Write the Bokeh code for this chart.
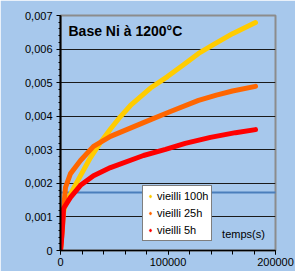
from bokeh.plotting import figure
from bokeh.models import (Range1d, FixedTicker, Label, Legend, LegendItem, PolyAnnotation)
from bokeh.embed import file_html
from bokeh.resources import INLINE
import numpy as np

# ---- data ----
t_100h = [0, 930, 1860, 3700, 7400, 12100, 18600, 27900, 37200, 46500, 55800, 65100,
          83700, 99500, 113500, 128400, 144200, 160000, 181400]
m_100h = [0, 0.00045, 0.00095, 0.00128, 0.00155, 0.00185, 0.00223, 0.00277, 0.00322,
          0.00362, 0.00399, 0.00432, 0.00484, 0.00518, 0.00551, 0.00587, 0.00617,
          0.00646, 0.00679]

t_25h = [0, 1860, 2800, 4650, 9300, 18600, 30700, 46500, 77200, 102300, 128400, 145000,
         160000, 181400]
m_25h = [0, 0.00069, 0.00119, 0.00188, 0.00229, 0.00268, 0.0031, 0.0034, 0.00381,
         0.00414, 0.00447, 0.00463, 0.00475, 0.00489]

t_5h = [0, 930, 1860, 2800, 9300, 18600, 30700, 46500, 77200, 97700, 116000, 139500,
        162800, 181400]
m_5h = [0, 0.0003, 0.00074, 0.00125, 0.00158, 0.00194, 0.00223, 0.00247, 0.00283,
        0.00301, 0.00319, 0.00337, 0.00351, 0.0036]

series_names = ["vieilli 100h", "vieilli 25h", "vieilli 5h"]
series_colors = ["#FFCC00", "#FF6600", "#FF0000"]

y_ticks = [0, 0.001, 0.002, 0.003, 0.004, 0.005, 0.006, 0.007]
y_tick_labels = ["0", "0,001", "0,002", "0,003", "0,004", "0,005", "0,006", "0,007"]
x_ticks = [0, 100000, 200000]
x_tick_labels = ["0", "100000", "200000"]

title_text = "Base Ni à 1200°C"
y_label_text = "prise de masse (g/cm²)"
x_label_text = "temps(s)"

BG = "#A7C8EC"
FONT = "Liberation Sans"

p = figure(width=295, height=271, output_backend="svg", toolbar_location=None,
           x_range=Range1d(0, 200000), y_range=Range1d(0, 0.007),
           min_border_left=60, min_border_right=20, min_border_top=15, min_border_bottom=21)
p.background_fill_color = BG
p.border_fill_color = BG
p.outline_line_color = "#8C8C8C"
p.outline_line_width = 2

# grid
p.xgrid.visible = False
p.ygrid.ticker = FixedTicker(ticks=y_ticks[1:-1])
p.ygrid.grid_line_color = "#1a1a1a"
p.ygrid.grid_line_width = 1.2

# y axis
p.yaxis.ticker = FixedTicker(ticks=y_ticks, minor_ticks=list(np.arange(0, 0.00701, 0.0002)))
p.yaxis.major_label_overrides = {v: s for v, s in zip(y_ticks, y_tick_labels)}
p.yaxis.axis_line_color = "black"
p.yaxis.axis_line_width = 2
p.yaxis.major_tick_out = 4
p.yaxis.major_tick_in = 0
p.yaxis.minor_tick_out = 2
p.yaxis.minor_tick_in = 0
p.yaxis.major_tick_line_color = "black"
p.yaxis.minor_tick_line_color = "black"
p.yaxis.major_label_standoff = 4
p.yaxis.major_label_text_font = FONT
p.yaxis.major_label_text_font_size = "11px"
p.yaxis.major_label_text_color = "black"

# x axis
p.xaxis.ticker = FixedTicker(ticks=x_ticks, minor_ticks=list(np.arange(0, 200001, 20000)))
p.xaxis.major_label_overrides = {v: s for v, s in zip(x_ticks, x_tick_labels)}
p.xaxis.axis_line_color = "black"
p.xaxis.axis_line_width = 1.5
p.xaxis.major_tick_out = 4
p.xaxis.major_tick_in = 0
p.xaxis.minor_tick_out = 4
p.xaxis.minor_tick_in = 0
p.xaxis.major_tick_line_color = "black"
p.xaxis.minor_tick_line_color = "black"
p.xaxis.major_label_standoff = 3
p.xaxis.major_label_text_font = FONT
p.xaxis.major_label_text_font_size = "11px"
p.xaxis.major_label_text_color = "black"

# stray blue horizontal line across the picture
p.add_layout(PolyAnnotation(xs=[-70000, 260000, 260000, -70000],
                            ys=[0.0017, 0.0017, 0.00176, 0.00176],
                            fill_color="#4A7EBB", fill_alpha=1, line_alpha=0, level="underlay"))

# curves
xs = [t_100h, t_25h, t_5h]
ys = [m_100h, m_25h, m_5h]
for x, y, c in zip(xs, ys, series_colors):
    p.line(x, y, line_color=c, line_width=5, line_cap="round", line_join="round")

# legend with diamond markers (marker renderers hold no visible point)
items = []
for name, c in zip(series_names, series_colors):
    r = p.scatter(x=[np.nan], y=[np.nan], marker="diamond", size=7, fill_color=c, line_color=c)
    items.append(LegendItem(label=name, renderers=[r]))

legend = Legend(items=items, location=(82, 9), margin=0, padding=3, spacing=3,
                label_height=14, glyph_width=8, glyph_height=14, label_standoff=3,
                label_text_font=FONT, label_text_font_size="11px", label_text_color="black",
                background_fill_color="white", background_fill_alpha=1,
                border_line_color="black", border_line_width=1.2)
p.add_layout(legend)

# texts
p.add_layout(Label(x=7440, y=0.006524, text=title_text, text_align="left", text_baseline="middle",
                   text_font=FONT, text_font_size="14px", text_font_style="bold", text_color="black"))
p.add_layout(Label(x=170200, y=0.00048, text=x_label_text, text_align="center", text_baseline="middle",
                   text_font=FONT, text_font_size="11px", text_color="black"))
p.add_layout(Label(x=-41400, y=0.00309, text=y_label_text, angle=np.pi / 2, text_align="center",
                   text_baseline="middle", text_font=FONT, text_font_size="12px", text_color="black"))

open("out.html", "w").write(file_html(p, INLINE))
